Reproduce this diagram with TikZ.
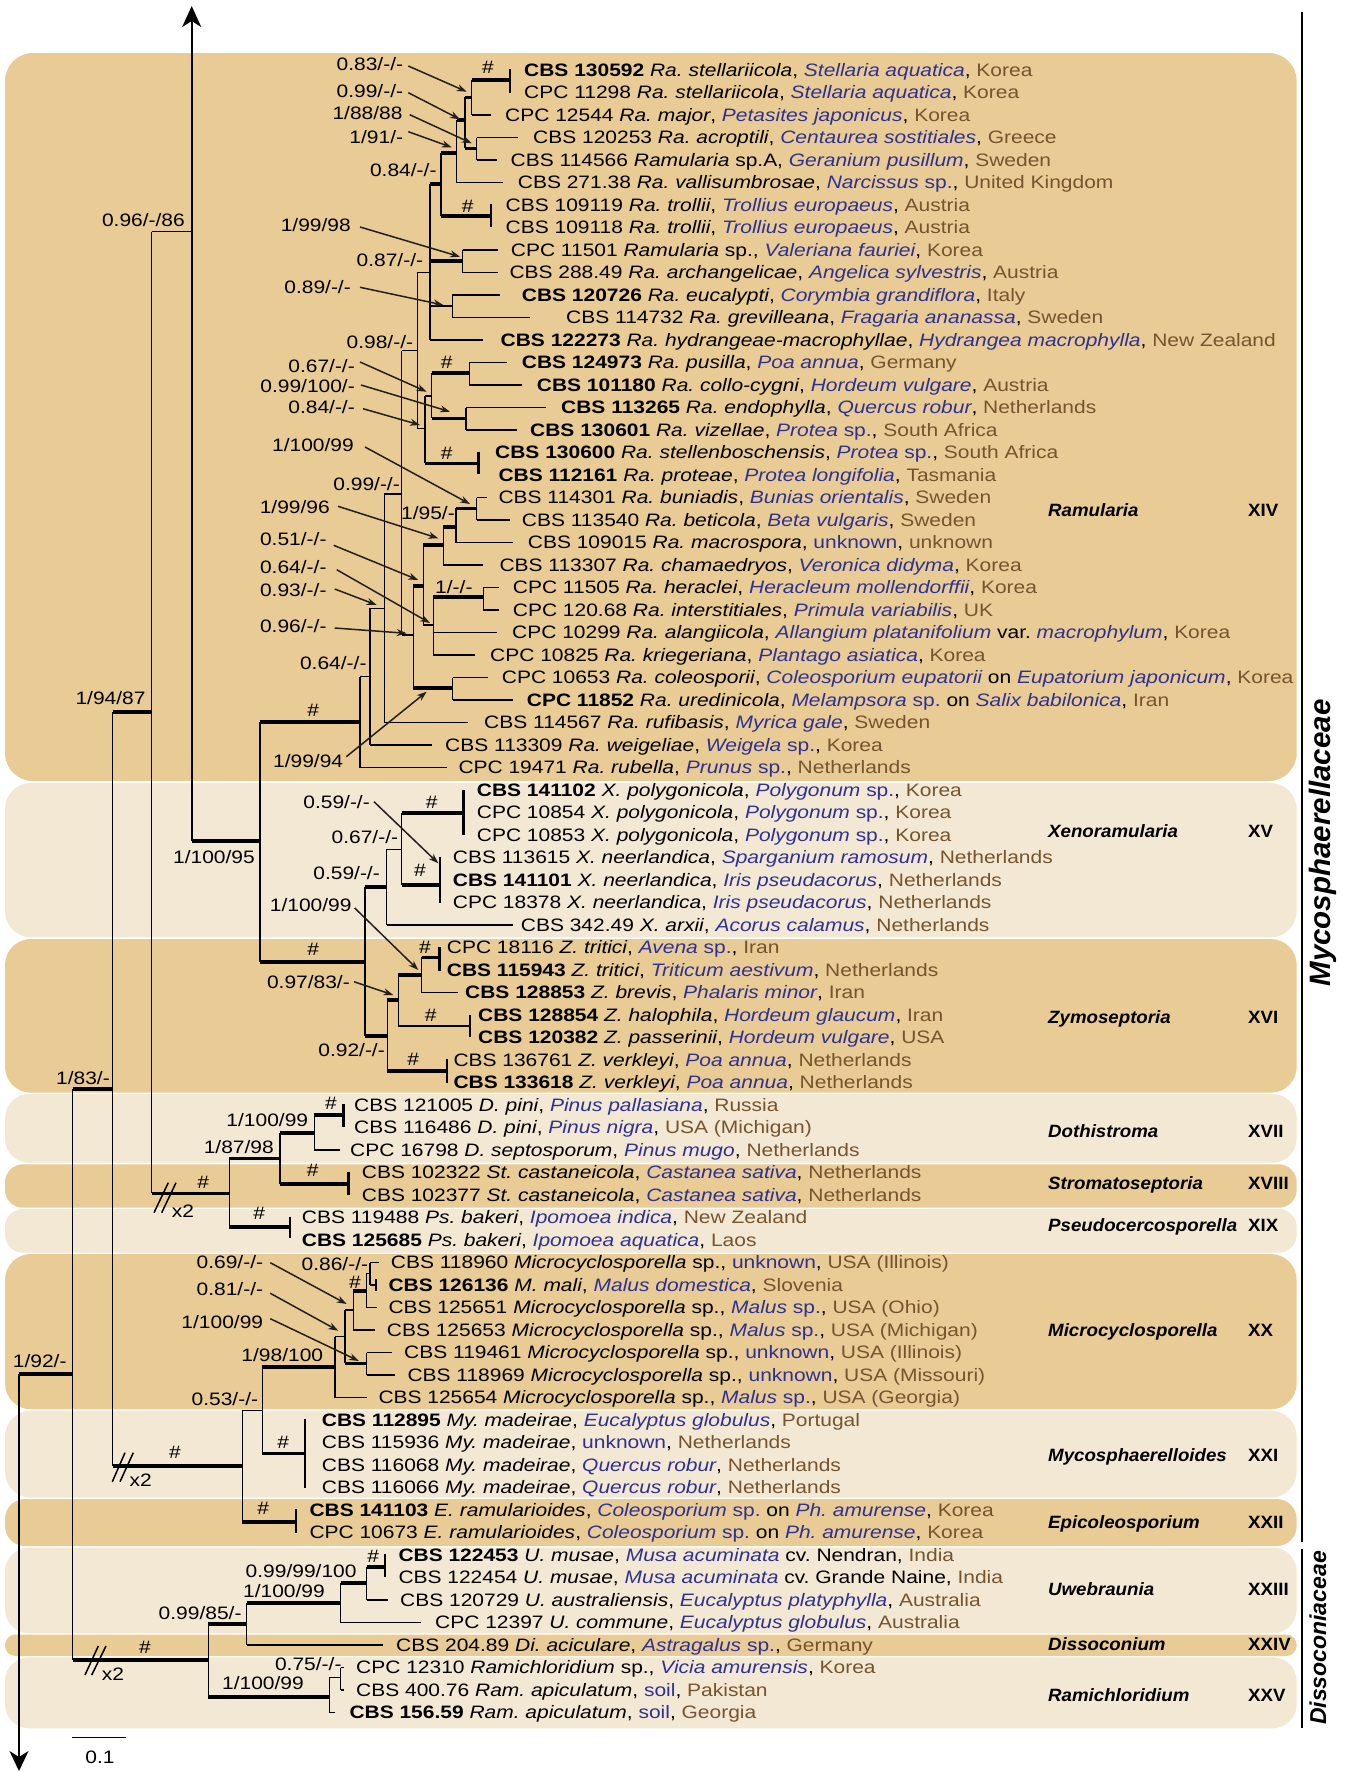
\documentclass[tikz,border=0pt]{standalone}
\usepackage{fontspec}
\setmainfont{Liberation Sans}[FakeStretch=1.165]
\newfontfamily\cladefont{Liberation Sans}[FakeStretch=1.05]
\newfontfamily\famfont{Liberation Sans}
\usetikzlibrary{arrows.meta}
\frenchspacing
\definecolor{banddark}{RGB}{232,203,149}
\definecolor{bandlight}{RGB}{243,232,211}
\definecolor{hostblue}{RGB}{46,49,146}
\definecolor{ctrybrown}{RGB}{117,84,46}
\definecolor{argray}{RGB}{35,31,32}
\newcommand{\hst}[1]{\textcolor{hostblue}{\itshape #1}}
\newcommand{\hostsp}{\textcolor{hostblue}{sp.}}
\newcommand{\ctry}[1]{\textcolor{ctrybrown}{#1}}
\newcommand{\sn}[1]{\textit{#1}}
\newcommand{\unk}{\textcolor{hostblue}{unknown}}
\tikzset{
  thn/.style={line width=1.5pt},
  thk/.style={line width=3.6pt},
  cbar/.style={line width=2.4pt},
  leaf/.style={anchor=west,inner sep=0pt,text height=12.9pt,text depth=0pt,font=\fontsize{18}{21}\selectfont},
  sup/.style={anchor=east,inner sep=0pt,text height=12.9pt,text depth=0pt,font=\fontsize{18}{21}\selectfont},
  hash/.style={anchor=center,inner sep=0pt,text height=12.9pt,text depth=0pt,font=\fontsize{18}{21}\selectfont},
  supar/.style={draw=argray,line width=1.5pt,-{Stealth[length=10pt,width=7pt]}},
  clade/.style={anchor=west,inner sep=0pt,text height=12.75pt,text depth=0pt,font=\cladefont\bfseries\itshape\fontsize{17.8}{20}\selectfont},
  roman/.style={anchor=west,inner sep=0pt,text height=12.75pt,text depth=0pt,font=\cladefont\bfseries\fontsize{17.8}{20}\selectfont}
}
\begin{document}
\begin{tikzpicture}[x=1pt,y=-1pt]
\path[use as bounding box] (0,0) rectangle (1349,1772);
% ---------- bands ----------
\fill[banddark,rounded corners=28pt] (5,53) rectangle (1296.7,781);
\fill[bandlight,rounded corners=26pt] (5,783) rectangle (1296.7,937.3);
\fill[banddark,rounded corners=26pt] (5,939) rectangle (1296.7,1092.7);
\fill[bandlight,rounded corners=24pt] (5,1094) rectangle (1296.7,1162.7);
\fill[banddark,rounded corners=18pt] (5,1164.3) rectangle (1296.7,1207.7);
\fill[bandlight,rounded corners=18pt] (5,1209) rectangle (1296.7,1252.7);
\fill[banddark,rounded corners=26pt] (5,1254) rectangle (1296.7,1409.3);
\fill[bandlight,rounded corners=26pt] (5,1410.7) rectangle (1296.7,1497.7);
\fill[banddark,rounded corners=20pt] (5,1499) rectangle (1296.7,1546);
\fill[bandlight,rounded corners=24pt] (5,1547.5) rectangle (1296.7,1633.3);
\fill[banddark,rounded corners=10.5pt] (5,1634.5) rectangle (1296.7,1656);
\fill[bandlight,rounded corners=24pt] (5,1657.3) rectangle (1296.7,1728.3);
% ---------- backbone ----------
\draw[line width=2pt,-{Stealth[length=21pt,width=19pt,inset=6pt]}] (191.7,841) -- (191.7,6);
\draw[thn] (151.7,231.5) -- (191.7,231.5);
\draw[thn] (151.7,231.5) -- (151.7,1193.3);
\draw[thk] (112.5,712) -- (151.7,712);
\draw[thn] (112.5,712) -- (112.5,1466);
\draw[thk] (72.7,1089) -- (112.5,1089);
\draw[thn] (72.7,1089) -- (72.7,1660);
\draw[thk] (19,1374) -- (72.7,1374);
\draw[line width=2pt,-{Stealth[length=20pt,width=19pt,inset=6pt]}] (19,1374) -- (19,1771);
% ---------- Ramularia ----------
\draw[thk] (471.7,80) -- (510,80); \draw[cbar] (510,69) -- (510,92.7);
\draw[thn] (471.7,80) -- (471.7,115); \draw[thn] (471.7,115) -- (490.7,115);
\draw[thk] (465,97.3) -- (471.7,97.3);
\draw[thn] (476.7,137.5) -- (476.7,160); \draw[thn] (476.7,137.5) -- (518.3,137.5); \draw[thn] (476.7,160) -- (496.7,160);
\draw[thk] (465,148.3) -- (476.7,148.3);
\draw[thn] (465,97.3) -- (465,148.3);
\draw[thk] (456.7,120) -- (465,120);
\draw[thn] (456.7,120) -- (456.7,182.5); \draw[thn] (456.7,182.5) -- (502.7,182.5);
\draw[thk] (441,152.7) -- (456.7,152.7);
\draw[thn] (441,152.7) -- (441,216);
\draw[thk] (441,216) -- (490.7,216); \draw[cbar] (490.7,204) -- (490.7,227.3);
\draw[thk] (430,184) -- (441,184);
\draw[thn] (430,184) -- (430,340);
\draw[thn] (462.7,250) -- (462.7,272.5); \draw[thn] (462.7,250) -- (498.3,250); \draw[thn] (462.7,272.5) -- (498.3,272.5);
\draw[thk] (430,261.2) -- (462.7,261.2);
\draw[thn] (452.3,295) -- (452.3,317.5); \draw[thn] (452.3,295) -- (500,295); \draw[thn] (452.3,317.5) -- (530,317.5);
\draw[thn] (430,306.2) -- (452.3,306.2);
\draw[thn] (430,340) -- (483.3,340);
\draw[thn] (417.3,272.7) -- (430,272.7);
\draw[thn] (417.3,272.7) -- (417.3,428.3);
\draw[thn] (401.7,350.7) -- (417.3,350.7);
\draw[thn] (425,396) -- (425,463.3);
\draw[thn] (417.3,428.3) -- (425,428.3);
\draw[thn] (431.7,372.7) -- (431.7,418.3);
\draw[thn] (425,396) -- (431.7,396);
\draw[thn] (469.3,362.5) -- (469.3,385); \draw[thn] (469.3,362.5) -- (506.7,362.5); \draw[thn] (469.3,385) -- (521.7,385);
\draw[thk] (431.7,372.7) -- (469.3,372.7);
\draw[thn] (466,407.5) -- (466,430); \draw[thn] (466,407.5) -- (546,407.5); \draw[thn] (466,430) -- (516.7,430);
\draw[thk] (431.7,418.3) -- (466,418.3);
\draw[thk] (425,463.3) -- (478.3,463.3); \draw[cbar] (478.3,451.7) -- (478.3,474);
\draw[thn] (401.7,350.7) -- (401.7,635);
\draw[thn] (384.3,494) -- (401.7,494);
\draw[thn] (413.3,586) -- (413.3,688);
\draw[thn] (401.7,635) -- (413.3,635);
\draw[thn] (423.3,545) -- (423.3,625);
\draw[thk] (413.3,586) -- (423.3,586);
\draw[thn] (443.3,526.7) -- (443.3,565); \draw[thn] (443.3,565) -- (483.3,565);
\draw[thk] (423.3,545) -- (443.3,545);
\draw[thn] (456,508.3) -- (456,542.5); \draw[thn] (456,542.5) -- (513.3,542.5);
\draw[thk] (443.3,526.7) -- (456,526.7);
\draw[thn] (476.7,497.5) -- (476.7,520); \draw[thn] (476.7,497.5) -- (486.7,497.5); \draw[thn] (476.7,520) -- (510,520);
\draw[thk] (456,508.3) -- (476.7,508.3);
\draw[thn] (433.3,596.7) -- (433.3,655); \draw[thn] (433.3,632.5) -- (496.7,632.5); \draw[thn] (433.3,655) -- (475,655);
\draw[thn] (423.3,625) -- (433.3,625);
\draw[thn] (483.3,587.5) -- (483.3,610); \draw[thn] (483.3,587.5) -- (499.3,587.5); \draw[thn] (483.3,610) -- (499.3,610);
\draw[thk] (433.3,596.7) -- (483.3,596.7);
\draw[thn] (452.7,677.5) -- (452.7,700); \draw[thn] (452.7,677.5) -- (488.3,677.5); \draw[thn] (452.7,700) -- (513.3,700);
\draw[thk] (413.3,688) -- (452.7,688);
\draw[thn] (384.3,494) -- (384.3,722.5); \draw[thn] (384.3,722.5) -- (468.3,722.5);
\draw[thn] (370,608.3) -- (384.3,608.3);
\draw[thn] (370,608.3) -- (370,745); \draw[thn] (370,745) -- (431.7,745);
\draw[thn] (360,676.7) -- (370,676.7);
\draw[thn] (360,676.7) -- (360,767.5); \draw[thn] (360,767.5) -- (446.7,767.5);
\draw[thk] (260,721.7) -- (360,721.7);
% ---------- Xenoramularia / Zymoseptoria ----------
\draw[thn] (260,721.7) -- (260,961.7);
\draw[thk] (191.7,841) -- (260,841);
\draw[thn] (365,886.7) -- (365,1036);
\draw[thk] (260,961.7) -- (365,961.7);
\draw[thn] (386.7,849.3) -- (386.7,925); \draw[thn] (386.7,925) -- (513.3,925);
\draw[thk] (365,886.7) -- (386.7,886.7);
\draw[thn] (401.7,812.7) -- (401.7,885);
\draw[thn] (386.7,849.3) -- (401.7,849.3);
\draw[thk] (401.7,812.7) -- (463.3,812.7); \draw[cbar] (463.3,790) -- (463.3,835);
\draw[thk] (401.7,885) -- (440,885); \draw[cbar] (440,856.7) -- (440,903.3);
\draw[thn] (387.3,1000) -- (387.3,1070.7);
\draw[thk] (365,1036) -- (387.3,1036);
\draw[thn] (398.3,975) -- (398.3,1026);
\draw[thk] (387.3,1000) -- (398.3,1000);
\draw[thn] (421.7,957.3) -- (421.7,992.5); \draw[thn] (421.7,992.5) -- (458.3,992.5);
\draw[thk] (398.3,975) -- (421.7,975);
\draw[thk] (421.7,957.3) -- (439.3,957.3); \draw[cbar] (439.3,946.7) -- (439.3,970.7);
\draw[thn] (398.3,1026) -- (470,1026); \draw[cbar] (470,1015) -- (470,1036.7);
\draw[thk] (387.3,1070.7) -- (446.7,1070.7); \draw[cbar] (446.7,1059.3) -- (446.7,1082.7);
% ---------- Dothistroma / Stromatoseptoria / Pseudocercosporella ----------
\draw[thk] (151.7,1193.3) -- (229.3,1193.3);
\draw[thn] (154,1212.7) -- (168.3,1182.7); \draw[thn] (161.7,1212.7) -- (176,1182.7);
\draw[thn] (229.3,1158.3) -- (229.3,1226.7);
\draw[thk] (229.3,1158.3) -- (280,1158.3);
\draw[thn] (280,1132.7) -- (280,1184);
\draw[thk] (280,1132.7) -- (314.3,1132.7);
\draw[thn] (314.3,1115) -- (314.3,1150); \draw[thn] (314.3,1150) -- (340,1150);
\draw[thk] (314.3,1115) -- (343.3,1115); \draw[cbar] (343.3,1104) -- (343.3,1126.7);
\draw[thk] (280,1184) -- (348.3,1184); \draw[cbar] (348.3,1171.7) -- (348.3,1195);
\draw[thk] (229.3,1226.7) -- (290,1226.7); \draw[cbar] (290,1216.7) -- (290,1238.3);
% ---------- Microcyclosporella / Mycosphaerelloides / Epicoleosporium ----------
\draw[thk] (112.5,1466) -- (242.3,1466);
\draw[thn] (112.3,1481.7) -- (125,1452.7); \draw[thn] (120,1481.7) -- (133.3,1452.7);
\draw[thn] (242.3,1410.7) -- (242.3,1521.7);
\draw[thn] (242.3,1410.7) -- (262.3,1410.7);
\draw[thn] (262.3,1366.7) -- (262.3,1453.3);
\draw[thk] (262.3,1366.7) -- (335,1366.7);
\draw[thn] (335,1336.7) -- (335,1397.5); \draw[thn] (335,1397.5) -- (366.7,1397.5);
\draw[thn] (335,1336.7) -- (345,1336.7);
\draw[thn] (345,1310) -- (345,1363.3);
\draw[thk] (345,1363.3) -- (366.7,1363.3);
\draw[thn] (366.7,1352.5) -- (366.7,1375); \draw[thn] (366.7,1352.5) -- (391.7,1352.5); \draw[thn] (366.7,1375) -- (395,1375);
\draw[thn] (345,1310) -- (353.3,1310);
\draw[thn] (353.3,1290.7) -- (353.3,1330); \draw[thn] (353.3,1330) -- (375,1330);
\draw[thk] (353.3,1290.7) -- (366.7,1290.7);
\draw[thn] (366.7,1273.3) -- (366.7,1307.5); \draw[thn] (366.7,1307.5) -- (376.7,1307.5);
\draw[thn] (366.7,1273.3) -- (370,1273.3);
\draw[thn] (370,1262.5) -- (370,1285); \draw[thn] (370,1262.5) -- (379.3,1262.5); \draw[thn] (370,1285) -- (376,1285);
\draw[thn] (376,1279) -- (376,1291);
\draw[thk] (262.3,1453.3) -- (305,1453.3); \draw[cbar] (305,1419.3) -- (305,1488.3);
\draw[thk] (242.3,1521.7) -- (295.7,1521.7); \draw[cbar] (295.7,1509.3) -- (295.7,1533.3);
% ---------- Dissoconiaceae ----------
\draw[thk] (72.7,1660) -- (208.3,1660);
\draw[thn] (85,1675) -- (98.3,1646); \draw[thn] (91.7,1675) -- (106,1646);
\draw[thn] (208.3,1624) -- (208.3,1696.7);
\draw[thk] (208.3,1624) -- (246.7,1624);
\draw[thn] (246.7,1602.7) -- (246.7,1645); \draw[thn] (246.7,1645) -- (383.3,1645);
\draw[thk] (246.7,1602.7) -- (340.7,1602.7);
\draw[thn] (340.7,1582.7) -- (340.7,1622.5); \draw[thn] (340.7,1622.5) -- (421,1622.5);
\draw[thk] (340.7,1582.7) -- (366.7,1582.7);
\draw[thn] (366.7,1566.7) -- (366.7,1600); \draw[thn] (366.7,1600) -- (388.3,1600);
\draw[thk] (366.7,1566.7) -- (385,1566.7); \draw[cbar] (385,1554.3) -- (385,1577.3);
\draw[thk] (208.3,1696.7) -- (329.3,1696.7);
\draw[thn] (329.3,1677.7) -- (329.3,1712.5); \draw[thn] (329.3,1712.5) -- (335,1712.5);
\draw[thn] (329.3,1677.7) -- (340.7,1677.7);
\draw[thn] (340.7,1667.5) -- (340.7,1690); \draw[thn] (340.7,1667.5) -- (344,1667.5); \draw[thn] (340.7,1690) -- (344,1690);
% ---------- hashes and x2 ----------
\node[hash] (h1) at (488,67) {\#};
\node[hash] (h2) at (467.7,205.7) {\#};
\node[hash] (h3) at (446.7,361.7) {\#};
\node[hash] (h4) at (446.7,453.3) {\#};
\node[hash] (h5) at (313.3,710) {\#};
\node[hash] (h6) at (431.7,801.7) {\#};
\node[hash] (h7) at (420,870) {\#};
\node[hash] (h8) at (313.3,949.3) {\#};
\node[hash] (h9) at (425,946.7) {\#};
\node[hash] (h10) at (430.7,1015) {\#};
\node[hash] (h11) at (413.3,1059.3) {\#};
\node[hash] (h12) at (331,1103.3) {\#};
\node[hash] (h13) at (312.7,1170) {\#};
\node[hash] (h14) at (259.3,1213.3) {\#};
\node[hash] (h15) at (203.3,1181.7) {\#};
\node[hash] (h16) at (355,1281.7) {\#};
\node[hash] (h17) at (283.3,1441.7) {\#};
\node[hash] (h18) at (263.3,1508.3) {\#};
\node[hash] (h19) at (175,1451.7) {\#};
\node[hash] (h20) at (373.3,1556) {\#};
\node[hash] (h21) at (145,1646.7) {\#};
\node[hash] (x2a) at (183,1211) {x2};
\node[hash] (x2b) at (140.8,1480) {x2};
\node[hash] (x2c) at (113,1674) {x2};
% ---------- support values ----------
\node[sup] (s1) at (403.3,64) {0.83/-/-};
\node[sup] (s2) at (403.3,90.7) {0.99/-/-};
\node[sup] (s3) at (402.7,112.7) {1/88/88};
\node[sup] (s4) at (403.3,136.7) {1/91/-};
\node[sup] (s5) at (436.7,170) {0.84/-/-};
\node[sup] (s6) at (351,225) {1/99/98};
\node[sup] (s7) at (423.3,260) {0.87/-/-};
\node[sup] (s8) at (351,287.3) {0.89/-/-};
\node[sup] (s9) at (413.3,341.7) {0.98/-/-};
\node[sup] (s10) at (355,366) {0.67/-/-};
\node[sup] (s11) at (355,386) {0.99/100/-};
\node[sup] (s12) at (355,406.7) {0.84/-/-};
\node[sup] (s13) at (354,445) {1/100/99};
\node[sup] (s14) at (400,484) {0.99/-/-};
\node[sup] (s15) at (330,507.3) {1/99/96};
\node[sup] (s16) at (455,512.7) {1/95/-};
\node[sup] (s17) at (326.7,539.3) {0.51/-/-};
\node[sup] (s18) at (326.7,566.7) {0.64/-/-};
\node[sup] (s19) at (326.7,590) {0.93/-/-};
\node[sup] (s20) at (326.7,626) {0.96/-/-};
\node[sup] (s21) at (472.7,586.7) {1/-/-};
\node[sup] (s22) at (366.7,663.3) {0.64/-/-};
\node[sup] (s23) at (343.3,760.7) {1/99/94};
\node[sup] (s24) at (370,801.7) {0.59/-/-};
\node[sup] (s25) at (398.3,837.3) {0.67/-/-};
\node[sup] (s26) at (380,873.3) {0.59/-/-};
\node[sup] (s27) at (351.7,905) {1/100/99};
\node[sup] (s28) at (255,856.7) {1/100/95};
\node[sup] (s29) at (350,981.7) {0.97/83/-};
\node[sup] (s30) at (385,1050) {0.92/-/-};
\node[sup] (s31) at (308.3,1120) {1/100/99};
\node[sup] (s32) at (274,1146.7) {1/87/98};
\node[sup] (s33) at (263.3,1261.7) {0.69/-/-};
\node[sup] (s34) at (263.3,1289.3) {0.81/-/-};
\node[sup] (s35) at (263.3,1321.7) {1/100/99};
\node[sup] (s36) at (368.3,1264) {0.86/-/-};
\node[sup] (s37) at (323.3,1355) {1/98/100};
\node[sup] (s38) at (258.3,1399.3) {0.53/-/-};
\node[sup] (s39) at (356.7,1570.7) {0.99/99/100};
\node[sup] (s40) at (325,1590.7) {1/100/99};
\node[sup] (s41) at (241.7,1612.7) {0.99/85/-};
\node[sup] (s42) at (341.7,1664) {0.75/-/-};
\node[sup] (s43) at (304,1683.3) {1/100/99};
\node[sup] (s44) at (185,220) {0.96/-/86};
\node[sup] (s45) at (145.7,698) {1/94/87};
\node[sup] (s46) at (110,1078) {1/83/-};
\node[sup] (s47) at (66.7,1360.7) {1/92/-};
% ---------- pointer arrows ----------
\draw[supar] ([xshift=5pt,yshift=-2pt]s1.east) -- (466.7,91.7);
\draw[supar] ([xshift=5pt,yshift=-2pt]s2.east) -- (460,119.3);
\draw[supar] ([xshift=7pt,yshift=-2pt]s3.east) -- (471.7,143.3);
\draw[supar] ([xshift=5pt,yshift=5pt]s4.east) -- (451.7,147.3);
\draw[supar] ([xshift=9pt,yshift=-2pt]s6.east) -- (460,256.7);
\draw[supar] ([xshift=9pt,yshift=0pt]s8.east) -- (443.3,305);
\draw[supar] ([xshift=5pt,yshift=4pt]s10.east) -- (426.7,391.7);
\draw[supar] ([xshift=6pt,yshift=1pt]s11.east) -- (450,411.7);
\draw[supar] ([xshift=8pt,yshift=-2pt]s12.east) -- (420,425);
\draw[supar] ([xshift=11pt,yshift=-2pt]s13.east) -- (470,504);
\draw[supar] ([xshift=8pt,yshift=1pt]s15.east) -- (438.3,538.3);
\draw[supar] ([xshift=7pt,yshift=-6pt]s17.east) -- (418.3,580);
\draw[supar] ([xshift=10pt,yshift=-3pt]s18.east) -- (430,623);
\draw[supar] ([xshift=8pt,yshift=1pt]s19.east) -- (376.7,605);
\draw[supar] ([xshift=8pt,yshift=-2pt]s20.east) -- (406.7,633.3);
\draw[supar] ([xshift=3pt,yshift=4pt]s23.east) -- (426.7,691.7);
\draw[supar] ([xshift=4pt]s24.east) -- (438.3,863.3);
\draw[supar] ([xshift=3pt,yshift=-3pt]s27.east) -- (418.3,970);
\draw[supar] ([xshift=4pt]s29.east) -- (393.3,995);
\draw[supar] ([xshift=7pt,yshift=-1pt]s33.east) -- (346.7,1304);
\draw[supar] ([xshift=7pt,yshift=-4pt]s34.east) -- (338.3,1330.7);
\draw[supar] ([xshift=7pt,yshift=3pt]s35.east) -- (359,1361);
% ---------- leaves ----------
\node[leaf] (l1) at (524,70) {\textbf{CBS 130592} \sn{Ra. stellariicola}, \hst{Stellaria aquatica}, \ctry{Korea}};
\node[leaf] (l2) at (524,92.5) {CPC 11298 \sn{Ra. stellariicola}, \hst{Stellaria aquatica}, \ctry{Korea}};
\node[leaf] (l3) at (505,115) {CPC 12544 \sn{Ra. major}, \hst{Petasites japonicus}, \ctry{Korea}};
\node[leaf] (l4) at (533,137.5) {CBS 120253 \sn{Ra. acroptili}, \hst{Centaurea sostitiales}, \ctry{Greece}};
\node[leaf] (l5) at (510.5,160) {CBS 114566 \sn{Ramularia} sp.A, \hst{Geranium pusillum}, \ctry{Sweden}};
\node[leaf] (l6) at (517.7,182.5) {CBS 271.38 \sn{Ra. vallisumbrosae}, \hst{Narcissus} \hostsp, \ctry{United Kingdom}};
\node[leaf] (l7) at (505.5,205) {CBS 109119 \sn{Ra. trollii}, \hst{Trollius europaeus}, \ctry{Austria}};
\node[leaf] (l8) at (505.5,227.5) {CBS 109118 \sn{Ra. trollii}, \hst{Trollius europaeus}, \ctry{Austria}};
\node[leaf] (l9) at (510.7,250) {CPC 11501 \sn{Ramularia} sp., \hst{Valeriana fauriei}, \ctry{Korea}};
\node[leaf] (l10) at (509.3,272.5) {CBS 288.49 \sn{Ra. archangelicae}, \hst{Angelica sylvestris}, \ctry{Austria}};
\node[leaf] (l11) at (521.7,295) {\textbf{CBS 120726} \sn{Ra. eucalypti}, \hst{Corymbia grandiflora}, \ctry{Italy}};
\node[leaf] (l12) at (566,317.5) {CBS 114732 \sn{Ra. grevilleana}, \hst{Fragaria ananassa}, \ctry{Sweden}};
\node[leaf] (l13) at (500.5,340) {\textbf{CBS 122273} \sn{Ra. hydrangeae-macrophyllae}, \hst{Hydrangea macrophylla}, \ctry{New Zealand}};
\node[leaf] (l14) at (521.7,362.5) {\textbf{CBS 124973} \sn{Ra. pusilla}, \hst{Poa annua}, \ctry{Germany}};
\node[leaf] (l15) at (536.7,385) {\textbf{CBS 101180} \sn{Ra. collo-cygni}, \hst{Hordeum vulgare}, \ctry{Austria}};
\node[leaf] (l16) at (561,407.5) {\textbf{CBS 113265} \sn{Ra. endophylla}, \hst{Quercus robur}, \ctry{Netherlands}};
\node[leaf] (l17) at (530,430) {\textbf{CBS 130601} \sn{Ra. vizellae}, \hst{Protea} \hostsp, \ctry{South Africa}};
\node[leaf] (l18) at (495,452.5) {\textbf{CBS 130600} \sn{Ra. stellenboschensis}, \hst{Protea} \hostsp, \ctry{South Africa}};
\node[leaf] (l19) at (498.3,475) {\textbf{CBS 112161} \sn{Ra. proteae}, \hst{Protea longifolia}, \ctry{Tasmania}};
\node[leaf] (l20) at (498.3,497.5) {CBS 114301 \sn{Ra. buniadis}, \hst{Bunias orientalis}, \ctry{Sweden}};
\node[leaf] (l21) at (521.7,520) {CBS 113540 \sn{Ra. beticola}, \hst{Beta vulgaris}, \ctry{Sweden}};
\node[leaf] (l22) at (527.7,542.5) {CBS 109015 \sn{Ra. macrospora}, \unk, \ctry{unknown}};
\node[leaf] (l23) at (499.3,565) {CBS 113307 \sn{Ra. chamaedryos}, \hst{Veronica didyma}, \ctry{Korea}};
\node[leaf] (l24) at (512.7,587.5) {CPC 11505 \sn{Ra. heraclei}, \hst{Heracleum mollendorffii}, \ctry{Korea}};
\node[leaf] (l25) at (512.7,610) {CPC 120.68 \sn{Ra. interstitiales}, \hst{Primula variabilis}, \ctry{UK}};
\node[leaf] (l26) at (512,632.5) {CPC 10299 \sn{Ra. alangiicola}, \hst{Allangium platanifolium} var. \hst{macrophylum}, \ctry{Korea}};
\node[leaf] (l27) at (490,655) {CPC 10825 \sn{Ra. kriegeriana}, \hst{Plantago asiatica}, \ctry{Korea}};
\node[leaf] (l28) at (501.7,677.5) {CPC 10653 \sn{Ra. coleosporii}, \hst{Coleosporium eupatorii} on \hst{Eupatorium japonicum}, \ctry{Korea}};
\node[leaf] (l29) at (526.7,700) {\textbf{CPC 11852} \sn{Ra. uredinicola}, \hst{Melampsora} \hostsp{} on \hst{Salix babilonica}, \ctry{Iran}};
\node[leaf] (l30) at (484,722.5) {CBS 114567 \sn{Ra. rufibasis}, \hst{Myrica gale}, \ctry{Sweden}};
\node[leaf] (l31) at (445,745) {CBS 113309 \sn{Ra. weigeliae}, \hst{Weigela} \hostsp, \ctry{Korea}};
\node[leaf] (l32) at (458.3,767.5) {CPC 19471 \sn{Ra. rubella}, \hst{Prunus} \hostsp, \ctry{Netherlands}};
\node[leaf] (l33) at (476.7,790) {\textbf{CBS 141102} \sn{X. polygonicola}, \hst{Polygonum} \hostsp, \ctry{Korea}};
\node[leaf] (l34) at (476.7,812.5) {CPC 10854 \sn{X. polygonicola}, \hst{Polygonum} \hostsp, \ctry{Korea}};
\node[leaf] (l35) at (476.7,835) {CPC 10853 \sn{X. polygonicola}, \hst{Polygonum} \hostsp, \ctry{Korea}};
\node[leaf] (l36) at (452.7,857.5) {CBS 113615 \sn{X. neerlandica}, \hst{Sparganium ramosum}, \ctry{Netherlands}};
\node[leaf] (l37) at (452.7,880) {\textbf{CBS 141101} \sn{X. neerlandica}, \hst{Iris pseudacorus}, \ctry{Netherlands}};
\node[leaf] (l38) at (452.7,902.5) {CPC 18378 \sn{X. neerlandica}, \hst{Iris pseudacorus}, \ctry{Netherlands}};
\node[leaf] (l39) at (520.7,925) {CBS 342.49 \sn{X. arxii}, \hst{Acorus calamus}, \ctry{Netherlands}};
\node[leaf] (l40) at (446.7,947.5) {CPC 18116 \sn{Z. tritici}, \hst{Avena} \hostsp, \ctry{Iran}};
\node[leaf] (l41) at (446.7,970) {\textbf{CBS 115943} \sn{Z. tritici}, \hst{Triticum aestivum}, \ctry{Netherlands}};
\node[leaf] (l42) at (465,992.5) {\textbf{CBS 128853} \sn{Z. brevis}, \hst{Phalaris minor}, \ctry{Iran}};
\node[leaf] (l43) at (478,1015) {\textbf{CBS 128854} \sn{Z. halophila}, \hst{Hordeum glaucum}, \ctry{Iran}};
\node[leaf] (l44) at (478,1037.5) {\textbf{CBS 120382} \sn{Z. passerinii}, \hst{Hordeum vulgare}, \ctry{USA}};
\node[leaf] (l45) at (453.3,1060) {CBS 136761 \sn{Z. verkleyi}, \hst{Poa annua}, \ctry{Netherlands}};
\node[leaf] (l46) at (453.3,1082.5) {\textbf{CBS 133618} \sn{Z. verkleyi}, \hst{Poa annua}, \ctry{Netherlands}};
\node[leaf] (l47) at (354,1105) {CBS 121005 \sn{D. pini}, \hst{Pinus pallasiana}, \ctry{Russia}};
\node[leaf] (l48) at (354,1127.5) {CBS 116486 \sn{D. pini}, \hst{Pinus nigra}, \ctry{USA (Michigan)}};
\node[leaf] (l49) at (350,1150) {CPC 16798 \sn{D. septosporum}, \hst{Pinus mugo}, \ctry{Netherlands}};
\node[leaf] (l50) at (361.7,1172.5) {CBS 102322 \sn{St. castaneicola}, \hst{Castanea sativa}, \ctry{Netherlands}};
\node[leaf] (l51) at (361.7,1195) {CBS 102377 \sn{St. castaneicola}, \hst{Castanea sativa}, \ctry{Netherlands}};
\node[leaf] (l52) at (301.7,1217.5) {CBS 119488 \sn{Ps. bakeri}, \hst{Ipomoea indica}, \ctry{New Zealand}};
\node[leaf] (l53) at (301.7,1240) {\textbf{CBS 125685} \sn{Ps. bakeri}, \hst{Ipomoea aquatica}, \ctry{Laos}};
\node[leaf] (l54) at (390.7,1262.5) {CBS 118960 \sn{Microcyclosporella} sp., \unk, \ctry{USA (Illinois)}};
\node[leaf] (l55) at (388.3,1285) {\textbf{CBS 126136} \sn{M. mali}, \hst{Malus domestica}, \ctry{Slovenia}};
\node[leaf] (l56) at (388.3,1307.5) {CBS 125651 \sn{Microcyclosporella} sp., \hst{Malus} \hostsp, \ctry{USA (Ohio)}};
\node[leaf] (l57) at (386.7,1330) {CBS 125653 \sn{Microcyclosporella} sp., \hst{Malus} \hostsp, \ctry{USA (Michigan)}};
\node[leaf] (l58) at (404,1352.5) {CBS 119461 \sn{Microcyclosporella} sp., \unk, \ctry{USA (Illinois)}};
\node[leaf] (l59) at (407.3,1375) {CBS 118969 \sn{Microcyclosporella} sp., \unk, \ctry{USA (Missouri)}};
\node[leaf] (l60) at (378.3,1397.5) {CBS 125654 \sn{Microcyclosporella} sp., \hst{Malus} \hostsp, \ctry{USA (Georgia)}};
\node[leaf] (l61) at (321.7,1420) {\textbf{CBS 112895} \sn{My. madeirae}, \hst{Eucalyptus globulus}, \ctry{Portugal}};
\node[leaf] (l62) at (321.7,1442.5) {CBS 115936 \sn{My. madeirae}, \unk, \ctry{Netherlands}};
\node[leaf] (l63) at (321.7,1465) {CBS 116068 \sn{My. madeirae}, \hst{Quercus robur}, \ctry{Netherlands}};
\node[leaf] (l64) at (321.7,1487.5) {CBS 116066 \sn{My. madeirae}, \hst{Quercus robur}, \ctry{Netherlands}};
\node[leaf] (l65) at (309.3,1510) {\textbf{CBS 141103} \sn{E. ramularioides}, \hst{Coleosporium} \hostsp{} on \hst{Ph. amurense}, \ctry{Korea}};
\node[leaf] (l66) at (309.3,1532.5) {CPC 10673 \sn{E. ramularioides}, \hst{Coleosporium} \hostsp{} on \hst{Ph. amurense}, \ctry{Korea}};
\node[leaf] (l67) at (398.3,1555) {\textbf{CBS 122453} \sn{U. musae}, \hst{Musa acuminata} cv. Nendran, \ctry{India}};
\node[leaf] (l68) at (398.3,1577.5) {CBS 122454 \sn{U. musae}, \hst{Musa acuminata} cv. Grande Naine, \ctry{India}};
\node[leaf] (l69) at (400,1600) {CBS 120729 \sn{U. australiensis}, \hst{Eucalyptus platyphylla}, \ctry{Australia}};
\node[leaf] (l70) at (435,1622.5) {CPC 12397 \sn{U. commune}, \hst{Eucalyptus globulus}, \ctry{Australia}};
\node[leaf] (l71) at (396,1645) {CBS 204.89 \sn{Di. aciculare}, \hst{Astragalus} \hostsp, \ctry{Germany}};
\node[leaf] (l72) at (356,1667.5) {CPC 12310 \sn{Ramichloridium} sp., \hst{Vicia amurensis}, \ctry{Korea}};
\node[leaf] (l73) at (356,1690) {CBS 400.76 \sn{Ram. apiculatum}, \textcolor{hostblue}{soil}, \ctry{Pakistan}};
\node[leaf] (l74) at (349.3,1712.5) {\textbf{CBS 156.59} \sn{Ram. apiculatum}, \textcolor{hostblue}{soil}, \ctry{Georgia}};
% ---------- clade labels ----------
\node[clade] (c1) at (1048,510) {Ramularia};         \node[roman] (r1) at (1248,510) {XIV};
\node[clade] (c2) at (1048,831.5) {Xenoramularia};   \node[roman] (r2) at (1248,831.5) {XV};
\node[clade] (c3) at (1048,1016.8) {Zymoseptoria};   \node[roman] (r3) at (1248,1016.8) {XVI};
\node[clade] (c4) at (1048,1131) {Dothistroma};      \node[roman] (r4) at (1248,1131) {XVII};
\node[clade] (c5) at (1048,1183) {Stromatoseptoria}; \node[roman] (r5) at (1248,1183) {XVIII};
\node[clade] (c6) at (1048,1224.7) {Pseudocercosporella}; \node[roman] (r6) at (1248,1224.7) {XIX};
\node[clade] (c7) at (1048,1329.8) {Microcyclosporella}; \node[roman] (r7) at (1248,1329.8) {XX};
\node[clade] (c8) at (1048,1455) {Mycosphaerelloides}; \node[roman] (r8) at (1248,1455) {XXI};
\node[clade] (c9) at (1048,1521.7) {Epicoleosporium}; \node[roman] (r9) at (1248,1521.7) {XXII};
\node[clade] (c10) at (1048,1589.3) {Uwebraunia};     \node[roman] (r10) at (1248,1589.3) {XXIII};
\node[clade] (c11) at (1048,1644) {Dissoconium};     \node[roman] (r11) at (1248,1644) {XXIV};
\node[clade] (c12) at (1048,1695) {Ramichloridium};  \node[roman] (r12) at (1248,1695) {XXV};
% ---------- families ----------
\draw[line width=2pt] (1301.7,12) -- (1301.7,1541.7);
\draw[line width=2pt] (1301.7,1549) -- (1301.7,1728.3);
\node[rotate=90,inner sep=0pt,font=\famfont\bfseries\itshape\fontsize{29.5}{31}\selectfont] (fam1) at (1323,843) {Mycosphaerellaceae};
\node[rotate=90,inner sep=0pt,font=\famfont\bfseries\itshape\fontsize{23}{25}\selectfont] (fam2) at (1318,1638) {Dissoconiaceae};
% ---------- scale bar ----------
\draw[line width=1.6pt] (71.7,1737.3) -- (126,1737.3);
\node[hash] (sc) at (100,1757.3) {0.1};
\end{tikzpicture}
\end{document}
